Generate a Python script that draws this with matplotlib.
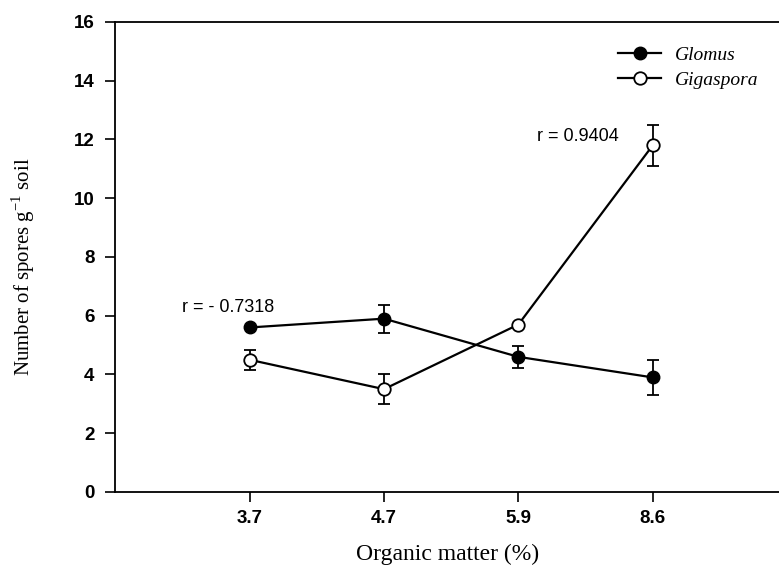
import matplotlib
matplotlib.use("Agg")
import matplotlib.pyplot as plt

# ── Datos ──
organic = ["3.7", "4.7", "5.9", "8.6"]
glomus = [5.6, 5.9, 4.6, 3.9]
glomus_err = [0.0, 0.48, 0.37, 0.6]
gigaspora = [4.5, 3.5, 5.7, 11.8]
gigaspora_err = [0.35, 0.5, 0.0, 0.7]
r_labels = ["r = - 0.7318", "r = 0.9404"]

plt.rcParams["mathtext.fontset"] = "custom"
plt.rcParams["mathtext.rm"] = "Liberation Serif"

fig = plt.figure(figsize=(7.79, 5.71), dpi=100)
ax = fig.add_axes([0.148, 0.1384, 0.852, 0.8231])

xs = list(range(1, len(organic) + 1))

# Barras de error (sin línea)
ax.errorbar(xs, glomus, yerr=glomus_err, fmt="none", ecolor="black",
            capsize=4, elinewidth=1.3, capthick=1.3, zorder=2)
ax.errorbar(xs, gigaspora, yerr=gigaspora_err, fmt="none", ecolor="black",
            capsize=4, elinewidth=1.3, capthick=1.3, zorder=2)

# Series
ax.plot(xs, glomus, "o-", color="black", mfc="black", mec="black",
        ms=9, lw=1.6, label="Glomus", zorder=3)
ax.plot(xs, gigaspora, "o-", color="black", mfc="white", mec="black",
        ms=9, mew=1.3, lw=1.6, label="Gigaspora", zorder=3)

# Anotaciones de correlación
ax.annotate(r_labels[0], xy=(xs[0], glomus[0]), xytext=(-49, 11),
            textcoords="offset points", fontsize=13,
            family="Liberation Sans")
ax.annotate(r_labels[1], xy=(xs[3], gigaspora[3]), xytext=(-83, 3),
            textcoords="offset points", fontsize=13,
            family="Liberation Sans")

ax.set_xlim(0, 4.94)
ax.set_ylim(0, 16)
ax.set_yticks(range(0, 17, 2))
ax.set_xticks(xs)
ax.set_xticklabels(organic)

ax.spines["right"].set_visible(False)
for s in ["left", "bottom", "top"]:
    ax.spines[s].set_linewidth(1.3)

ax.tick_params(direction="out", length=7, width=1.2, labelsize=13.5)
for lab in ax.get_xticklabels() + ax.get_yticklabels():
    lab.set_family("Liberation Sans")
    lab.set_fontweight("bold")
ax.tick_params(axis="x", pad=6)
ax.tick_params(axis="y", pad=8)

ax.set_xlabel("Organic matter (%)", family="Liberation Serif",
              fontsize=17, labelpad=12)
ax.set_ylabel(r"Number of spores g$^{-1}$ soil", family="Liberation Serif",
              fontsize=15)
ax.yaxis.set_label_coords(-0.118, 0.48)

leg = ax.legend(loc="upper right", bbox_to_anchor=(0.995, 0.985),
                frameon=False, handlelength=2.2, handletextpad=0.7,
                labelspacing=0.35,
                prop={"family": "Liberation Serif", "style": "italic",
                      "size": 14})

fig.savefig("out.png", dpi=100)
